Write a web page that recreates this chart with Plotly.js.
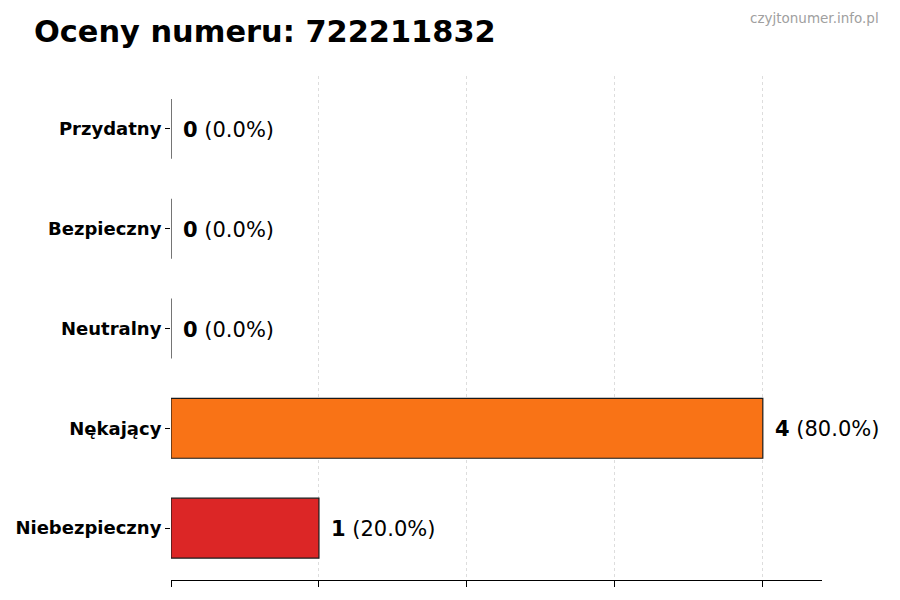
<!DOCTYPE html>
<html>
<head>
<meta charset="utf-8">
<script src="https://cdn.plot.ly/plotly-3.0.1.min.js"></script>
<style>
  html, body { margin: 0; padding: 0; background: #fff; }
  #chart { width: 900px; height: 600px; }
</style>
</head>
<body>
<div id="chart"></div>
<script>
var categories = ['Niebezpieczny', 'Nękający', 'Neutralny', 'Bezpieczny', 'Przydatny'];
var counts = [1, 4, 0, 0, 0];
var barColors = ['#dc2626', '#f97316', '#9ca3af', '#22c55e', '#3b82f6'];
var total = counts.reduce(function (a, b) { return a + b; }, 0);

var font = 'DejaVu Sans, sans-serif';

var barData = [{
    type: 'bar',
    orientation: 'h',
    y: categories,
    x: counts,
    width: 0.6,
    marker: { color: barColors, line: { color: '#1a1a1a', width: 1.2 } },
    hoverinfo: 'none'
}];

// value labels next to each bar
var labels = categories.map(function (c, i) {
    var pct = total ? (counts[i] / total * 100).toFixed(1) : '0.0';
    return {
        x: counts[i], y: c, xref: 'x', yref: 'y',
        text: '<b>' + counts[i] + '</b> (' + pct + '%)',
        showarrow: false, xanchor: 'left', xshift: 10, yshift: -1,
        font: { family: font, size: 21, color: '#000' }
    };
});

labels.push({
    x: 1, y: 1, xref: 'paper', yref: 'paper',
    xanchor: 'right', yanchor: 'bottom', xshift: 59, yshift: 48,
    text: 'czyjtonumer.info.pl', showarrow: false,
    font: { family: font, size: 13.5, color: '#a0a0a0' }
});

var layout = {
    width: 900, height: 600,
    margin: { l: 171, r: 78, t: 76, b: 20 },
    paper_bgcolor: '#fff', plot_bgcolor: '#fff',
    title: {
        text: '<b>Oceny numeru: 722211832</b>',
        x: 34 / 900, xanchor: 'left', xref: 'container',
        y: 1 - 31 / 600, yanchor: 'middle', yref: 'container',
        font: { family: font, size: 30.4, color: '#000' }
    },
    showlegend: false,
    bargap: 0.4,
    xaxis: {
        range: [0, 4.4], tickvals: [0, 1, 2, 3, 4], showticklabels: false,
        ticks: 'outside', ticklen: 6, tickcolor: '#000',
        showgrid: true, gridcolor: '#d4d4d4', griddash: '3px,3px', gridwidth: 0.8,
        showline: true, linecolor: '#000', linewidth: 1.2,
        zeroline: false, fixedrange: true
    },
    yaxis: {
        range: [-0.52, 4.53],
        ticks: 'outside', ticklen: 5, tickcolor: '#000',
        showgrid: false, showline: false, zeroline: false,
        tickfont: { family: font, size: 18, color: '#000', weight: 'bold' },
        fixedrange: true
    },
    annotations: labels
};

Plotly.newPlot('chart', barData, layout, { displayModeBar: false, staticPlot: true });
</script>
</body>
</html>
